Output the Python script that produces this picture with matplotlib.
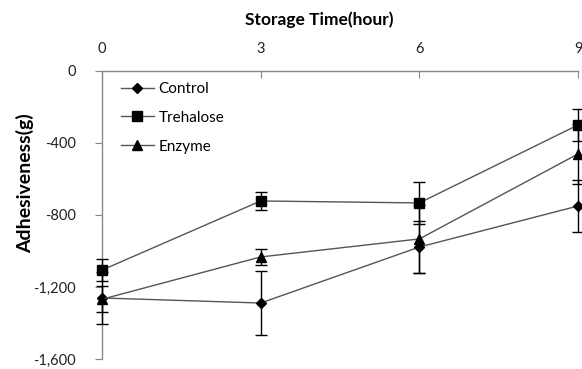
import matplotlib
matplotlib.use("Agg")
import matplotlib.pyplot as plt
from matplotlib.lines import Line2D
from matplotlib.ticker import FuncFormatter

plt.rcParams['font.family'] = ['Lato', 'DejaVu Sans']

# storage time (hour)
hours = [0, 3, 6, 9]

# adhesiveness (g) and std errors
control = [-1261, -1289, -978, -750]
control_err = [145, 178, 144, 144]
trehalose = [-1106, -722, -733, -300]
trehalose_err = [62, 48, 116, 90]
enzyme = [-1268, -1033, -933, -461]
enzyme_err = [73, 45, 190, 167]

fig = plt.figure(figsize=(5.82, 3.69), dpi=100)
ax = fig.add_axes([0.1753, 0.0271, 0.8178, 0.7805])

line_col = '#555555'
series = [
    ('Control', control, control_err, 'D', 5.5),
    ('Trehalose', trehalose, trehalose_err, 's', 7),
    ('Enzyme', enzyme, enzyme_err, '^', 7.5),
]
handles = []
for name, vals, err, mk, ms in series:
    ax.errorbar(hours, vals, yerr=err, color=line_col, lw=1.0,
                marker=mk, ms=ms, mfc='black', mec='black',
                ecolor='black', elinewidth=1.0, capsize=4, capthick=1.0,
                clip_on=False, zorder=3)
    handles.append(Line2D([], [], color=line_col, lw=1.0, marker=mk, ms=ms,
                          mfc='black', mec='black', label=name))

ax.set_xlim(0, 9)
ax.set_ylim(-1600, 0)
ax.set_xticks(hours)
ax.set_yticks([0, -400, -800, -1200, -1600])
ax.yaxis.set_major_formatter(FuncFormatter(lambda v, p: f'{int(v):,}'))

ax.xaxis.set_ticks_position('top')
ax.xaxis.set_label_position('top')
ax.tick_params(axis='x', direction='in', length=5, color='#888888',
               labelsize=10.5, labelcolor='#222222', pad=11)
ax.tick_params(axis='y', direction='out', length=5, color='#888888',
               labelsize=10.5, labelcolor='#222222', pad=14)

for s in ['right', 'bottom']:
    ax.spines[s].set_visible(False)
for s in ['top', 'left']:
    ax.spines[s].set_color('#888888')
    ax.spines[s].set_linewidth(1.0)

ax.set_xlabel('Storage Time(hour)', fontsize=12.5, fontweight='bold')
ax.xaxis.set_label_coords(0.456, 1.16)
ax.set_ylabel('Adhesiveness(g)', fontsize=14, fontweight='bold')
ax.yaxis.set_label_coords(-0.143, 0.61)

ax.legend(handles=handles, loc='upper left', bbox_to_anchor=(0.01, 1.01),
          frameon=False, fontsize=11, handlelength=2.2, labelspacing=0.98,
          handletextpad=0.3)

fig.savefig('out.png', dpi=100)
